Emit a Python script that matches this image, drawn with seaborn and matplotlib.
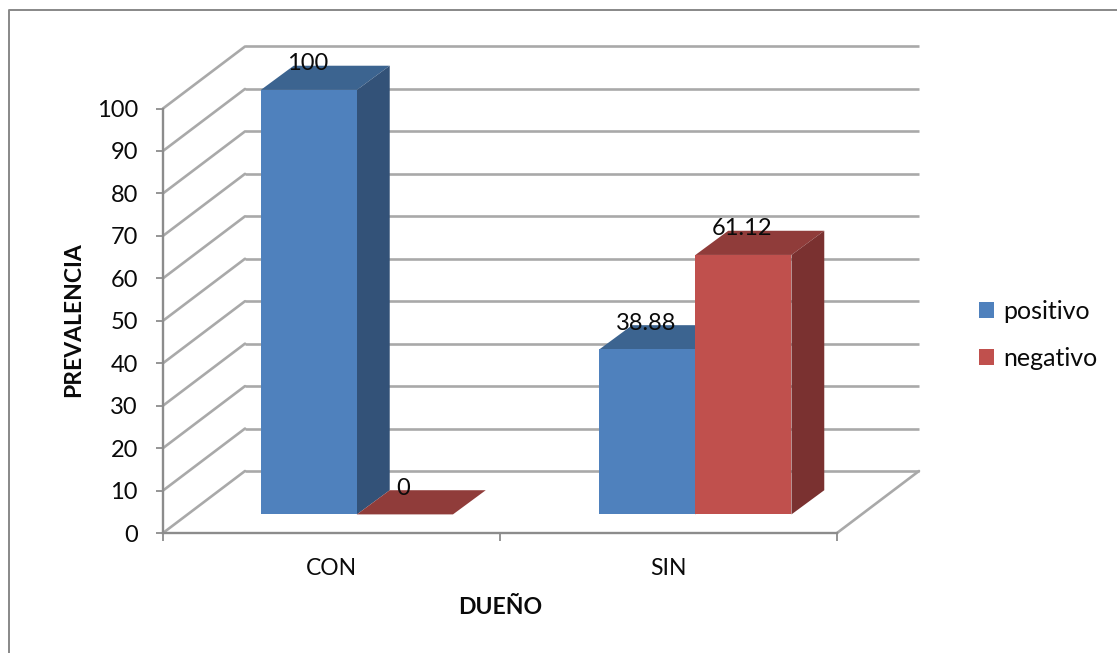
import matplotlib
matplotlib.use("Agg")
import matplotlib.pyplot as plt
import pandas as pd
import seaborn as sns
from matplotlib.lines import Line2D
from matplotlib.patches import Polygon, Patch
from matplotlib.transforms import Affine2D, IdentityTransform

# Prevalence by owner status
owners = ["CON", "SIN"]
positivo = [100, 38.88]
negativo = [0, 61.12]
value_labels = ["100", "38.88", "0", "61.12"]
y_ticks = list(range(0, 101, 10))

W, H = 1117, 653
FACE = {"positivo": "#4F81BD", "negativo": "#C0504D"}
TOP = {"positivo": "#3C6490", "negativo": "#903C3A"}
SIDE = {"positivo": "#335278", "negativo": "#7A3130"}
GRID = "#A9A9A9"
AXIS = "#8C8C8C"
TEXT = "#0A0A0A"

sns.set_theme(style="white")
plt.rcParams["font.family"] = ["Lato", "DejaVu Sans"]

fig = plt.figure(figsize=(W / 100, H / 100), dpi=100, facecolor="white")
ax = fig.add_axes([163 / W, (H - 533) / H, 674 / W, 424.5 / H])

df = pd.DataFrame({
    "owner": owners * 2,
    "prevalence": positivo + negativo,
    "result": ["positivo"] * 2 + ["negativo"] * 2,
})
sns.barplot(data=df, x="owner", y="prevalence", hue="result", order=owners,
            hue_order=["positivo", "negativo"], palette=FACE, width=0.57,
            saturation=1, legend=False, ax=ax)
ax.set_xlim(-0.5, 1.5)
ax.set_ylim(0, 100)

# Oblique projection: full chart depth expressed in data units
DX = 82 / 337
DY = 62 / 4.245
FRONT_X, BACK_X = 0.31, 0.71
FRONT_Y, BACK_Y = 0.30, 0.69
SECOND_GROUP_NUDGE = 1.5 / 337


def front(x, y):
    return (x + DX * FRONT_X, y + DY * FRONT_Y)


def back(x, y):
    return (x + DX * BACK_X, y + DY * BACK_Y)


# Back wall, side wall and floor
for v in y_ticks:
    ax.plot([-0.5 + DX, 1.5 + DX], [v + DY, v + DY], color=GRID, lw=1.9,
            clip_on=False, zorder=1, solid_capstyle="butt")
    ax.plot([-0.5, -0.5 + DX], [v, v + DY], color=GRID, lw=1.9,
            clip_on=False, zorder=1)
ax.plot([1.5, 1.5 + DX], [0, DY], color=GRID, lw=1.9, clip_on=False, zorder=1)

# Extrude every bar drawn by seaborn
series = ["positivo"] * 2 + ["negativo"] * 2
groups = [0, 1, 0, 1]
for bar, name, group, text in zip(ax.patches, series, groups, value_labels):
    nudge = SECOND_GROUP_NUDGE * group
    x0, w, h = bar.get_x() + nudge, bar.get_width(), bar.get_height()
    x1 = x0 + w
    z = 2 + 2 * (name == "negativo")
    top = [front(x0, h), front(x1, h), back(x1, h), back(x0, h)]
    side = [front(x1, 0), front(x1, h), back(x1, h), back(x1, 0)]
    ax.add_patch(Polygon(top, closed=True, fc=TOP[name], ec="none", clip_on=False, zorder=z))
    ax.add_patch(Polygon(side, closed=True, fc=SIDE[name], ec="none", clip_on=False, zorder=z))
    bar.set_transform(Affine2D().translate(DX * FRONT_X + nudge, DY * FRONT_Y) + ax.transData)
    bar.set_clip_on(False)
    bar.set_edgecolor("none")
    bar.set_zorder(z + 1)
    ax.annotate(text, front(x0 + w / 2, h), xytext=(-1.5, 26), textcoords="offset pixels",
                ha="center", va="center", fontsize=17, color=TEXT, zorder=8,
                annotation_clip=False)

# Axes, ticks and labels
sns.despine(ax=ax, top=True, right=True)
for s in ("left", "bottom"):
    ax.spines[s].set_color(AXIS)
    ax.spines[s].set_linewidth(1.7)
    ax.spines[s].set_zorder(1.5)
ax.set_yticks(y_ticks)
ax.set_xticks([0, 1], owners)
ax.set_xticks([-0.5, 0.5, 1.5], minor=True)
ax.tick_params(axis="y", which="major", left=True, length=5, width=1.3, color=AXIS,
               pad=13, labelsize=17, labelcolor=TEXT)
ax.tick_params(axis="x", which="major", bottom=False, length=0, pad=18,
               labelsize=16.5, labelcolor=TEXT)
ax.tick_params(axis="x", which="minor", bottom=True, length=5.5, width=1.3, color=AXIS)
ax.set_xlabel("")
ax.set_ylabel("")

fig.text(500 / W, (H - 608) / H, "DUEÑO", ha="center", va="center",
         fontsize=16.6, fontweight="bold", color=TEXT)
fig.text(74 / W, (H - 320) / H, "PREVALENCIA", ha="center", va="center",
         rotation=90, fontsize=16.5, fontweight="bold", color=TEXT)

handles = [Patch(fc=FACE[k], ec="none", label=k) for k in ("positivo", "negativo")]
fig.legend(handles=handles, loc="center left", bbox_to_anchor=(956.5 / W, (H - 335) / H),
           frameon=False, fontsize=18, handlelength=0.6, handleheight=0.6,
           handletextpad=0.36, labelspacing=0.95, labelcolor=TEXT)

# Outer chart frame
fig.add_artist(Line2D([8.5, 8.5, W], [0, H - 10, H - 10], transform=IdentityTransform(),
                      color="#888888", lw=1.4))

fig.savefig("out.png", dpi=100)
